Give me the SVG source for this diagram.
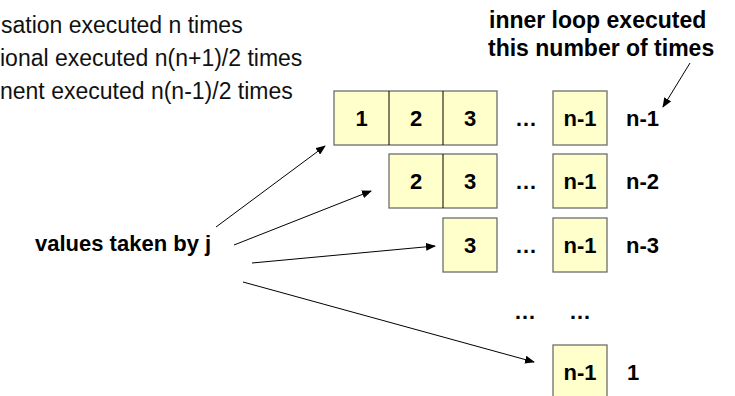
<svg xmlns="http://www.w3.org/2000/svg" width="735" height="396" viewBox="0 0 735 396">
<defs>
<marker id="ah" markerWidth="10" markerHeight="8" refX="9" refY="4" orient="auto" markerUnits="userSpaceOnUse">
<path d="M0,0 L10,4 L0,8 Z" fill="#000"/>
</marker>
<style>
.t{font-family:"Liberation Sans",Arial,sans-serif;font-size:23px;fill:#111}
.b{font-family:"Liberation Sans",Arial,sans-serif;font-size:22px;font-weight:bold;fill:#000}
.cap{font-family:"Liberation Sans",Arial,sans-serif;font-size:23px;font-weight:bold;fill:#000}
.c{font-family:"Liberation Sans",Arial,sans-serif;font-size:22px;font-weight:bold;fill:#000;text-anchor:middle}
.box{fill:#FFFFCC;stroke:#6e6e6e;stroke-width:1.3}
.div{stroke:#000;stroke-width:1}
.ar{stroke:#000;stroke-width:1;fill:none;marker-end:url(#ah)}
</style>
</defs>
<rect width="735" height="396" fill="#fff"/>
<g id="notes">
<text class="t" x="1" y="33">sation executed n times</text>
<text class="t" x="0" y="66">ional executed n(n+1)/2 times</text>
<text class="t" x="0" y="99">nent executed n(n-1)/2 times</text>
</g>
<g id="caption">
<text class="cap" x="489" y="28">inner loop executed</text>
<text class="cap" x="488" y="56">this number of times</text>
</g>
<g id="jlabel">
<text class="b" x="35" y="251">values taken by j</text>
</g>
<g id="row1">
<rect class="box" x="334" y="91" width="163" height="54"/>
<line class="div" x1="389" y1="91" x2="389" y2="145"/>
<line class="div" x1="443" y1="91" x2="443" y2="145"/>
<text class="c" x="361.5" y="126">1</text>
<text class="c" x="416" y="126">2</text>
<text class="c" x="470" y="126">3</text>
<text class="c" x="526" y="126">…</text>
<rect class="box" x="553" y="91" width="54" height="54"/>
<text class="c" x="580" y="126">n-1</text>
<text class="b" x="626" y="126">n-1</text>
</g>
<g id="row2">
<rect class="box" x="389" y="154" width="108" height="54"/>
<line class="div" x1="443" y1="154" x2="443" y2="208"/>
<text class="c" x="416" y="189">2</text>
<text class="c" x="470" y="189">3</text>
<text class="c" x="526" y="189">…</text>
<rect class="box" x="553" y="154" width="54" height="54"/>
<text class="c" x="580" y="189">n-1</text>
<text class="b" x="626" y="189">n-2</text>
</g>
<g id="row3">
<rect class="box" x="443" y="218" width="54" height="54"/>
<text class="c" x="470" y="253">3</text>
<text class="c" x="526" y="253">…</text>
<rect class="box" x="553" y="218" width="54" height="54"/>
<text class="c" x="580" y="253">n-1</text>
<text class="b" x="626" y="253">n-3</text>
</g>
<g id="row4">
<text class="c" x="525" y="319">…</text>
<text class="c" x="580" y="319">…</text>
</g>
<g id="row5">
<rect class="box" x="553" y="345" width="54" height="54"/>
<text class="c" x="580" y="380">n-1</text>
<text class="b" x="627" y="380">1</text>
</g>
<g id="connectors">
<line class="ar" x1="216" y1="227" x2="325" y2="146"/>
<line class="ar" x1="234" y1="245" x2="371" y2="191"/>
<line class="ar" x1="252" y1="263" x2="435" y2="246"/>
<line class="ar" x1="243" y1="282" x2="534" y2="362"/>
<line class="ar" x1="690" y1="63" x2="663" y2="107"/>
</g>
</svg>
